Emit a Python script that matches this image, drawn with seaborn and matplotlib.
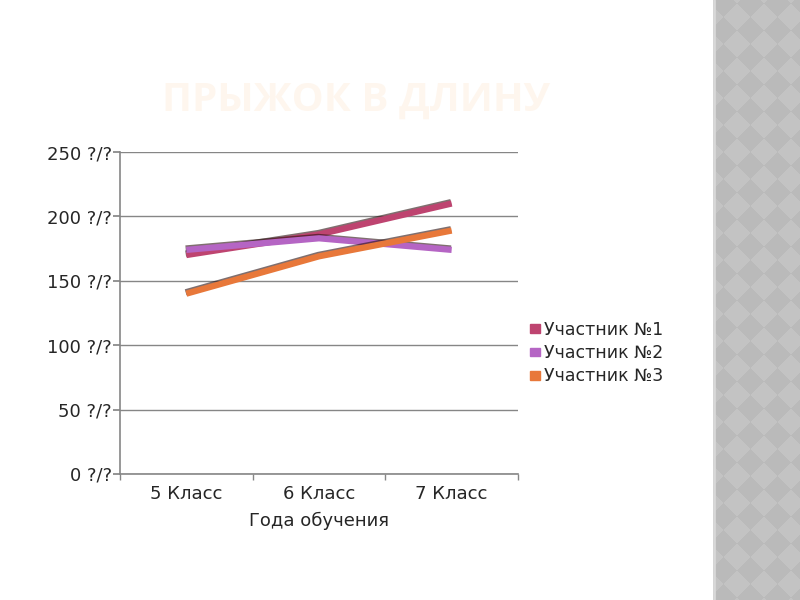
import numpy as np
import pandas as pd
import matplotlib.pyplot as plt
import matplotlib.patheffects as pe
import seaborn as sns

# Chart data
classes = ["5 Класс", "6 Класс", "7 Класс"]
participant_1 = [170, 186, 210]
participant_2 = [174, 183, 174]
participant_3 = [140, 169, 189]
series_names = ["Участник №1", "Участник №2", "Участник №3"]
y_ticks = [0, 50, 100, 150, 200, 250]
y_tick_labels = [f"{v} ?/?" for v in y_ticks]

df = pd.DataFrame({
    "class": classes * 3,
    "value": participant_1 + participant_2 + participant_3,
    "series": [s for s in series_names for _ in classes],
})

sns.set_theme(style="white")
plt.rcParams["font.family"] = ["DejaVu Sans"]

palette = {"Участник №1": "#BE4470", "Участник №2": "#B565C4", "Участник №3": "#E8783A"}
text_col = "#262626"

fig = plt.figure(figsize=(8, 6), dpi=100)

# decorative checkered strip on the right
strip = fig.add_axes([713 / 800, 0, 87 / 800, 1])
yy, xx = np.mgrid[0:600, 0:87]
s = 27
pat = (((xx + yy) // s + (xx - yy + 600) // s) % 2).astype(float)
img = np.where(pat > 0, 0.765, 0.728)
strip.imshow(img, cmap="gray", vmin=0, vmax=1, aspect="auto", interpolation="nearest")
strip.axvline(0.5, color="#d8d8d8", lw=2)
strip.axis("off")

ax = fig.add_axes([120 / 800, 126 / 600, 398 / 800, 322 / 600])
sns.lineplot(data=df, x="class", y="value", hue="series", palette=palette,
             linewidth=4.5, sort=False, ax=ax, legend=False)
for line in ax.lines:
    line.set_solid_capstyle("butt")
    line.set_path_effects([pe.SimpleLineShadow(offset=(-0.5, 1), shadow_color="#2a1010", alpha=0.6),
                           pe.Normal()])

ax.set_ylim(0, 250)
ax.set_xlim(-0.5, 2.5)
ax.set_yticks(y_ticks)
ax.set_yticklabels(y_tick_labels, fontsize=13, color=text_col)
ax.set_xticks(range(len(classes)))
ax.set_xticklabels(classes, fontsize=13, color=text_col)
ax.set_xticks([-0.5, 0.5, 1.5, 2.5], minor=True)
ax.tick_params(axis="x", which="major", length=0, pad=8)
ax.tick_params(axis="x", which="minor", length=4, color="#868686", direction="out", bottom=True)
ax.tick_params(axis="y", length=5, color="#868686", direction="out", left=True, pad=1)
ax.yaxis.grid(True, color="#868686", lw=1)
ax.set_axisbelow(True)
for side in ["top", "right"]:
    ax.spines[side].set_visible(False)
for side in ["left", "bottom"]:
    ax.spines[side].set_color("#868686")
    ax.spines[side].set_linewidth(1.2)
ax.set_xlabel("Года обучения", fontsize=13, color=text_col, labelpad=6)
ax.set_ylabel("")

handles = [plt.Rectangle((0, 0), 1, 1, color=palette[n]) for n in series_names]
ax.legend(handles, series_names, loc="center left", bbox_to_anchor=(1.012, 0.375),
          frameon=False, fontsize=12.5, handlelength=0.6, handleheight=0.4,
          handletextpad=0.2, labelspacing=0.3, borderaxespad=0, labelcolor=text_col)

fig.text(356 / 800, 1 - 100 / 600, "ПРЫЖОК В ДЛИНУ", ha="center", va="center",
         fontsize=29, fontweight="bold", color="#FEF6EE", family="Open Sans")

fig.savefig("out.png", dpi=100)
